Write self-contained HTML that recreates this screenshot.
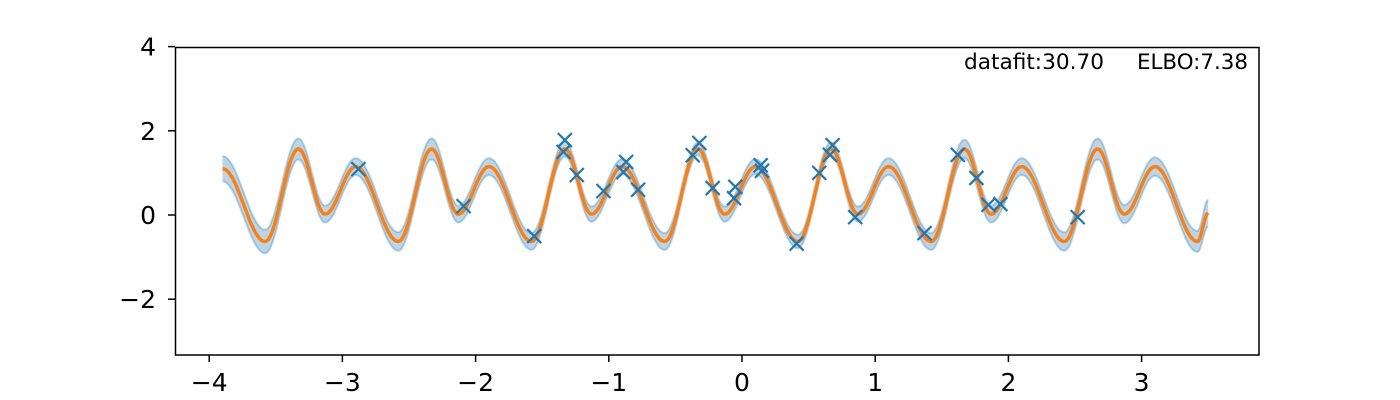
<!DOCTYPE html>
<html><head><meta charset="utf-8"><style>
html,body{margin:0;padding:0;background:#fff;}
svg{display:block;font-family:"DejaVu Sans","Liberation Sans",sans-serif;}
</style></head><body>
<svg id="chart" width="1400" height="400" viewBox="0 0 1400 400" xmlns="http://www.w3.org/2000/svg">
<rect width="1400" height="400" fill="#fff"/>
<defs><clipPath id="clip"><rect x="175" y="47" width="1084" height="308"/></clipPath></defs>
<g id="band" clip-path="url(#clip)"></g>
<g id="meanline" clip-path="url(#clip)"></g>
<g id="points" clip-path="url(#clip)"></g>
<rect x="175.5" y="47.5" width="1083.5" height="307.5" fill="none" stroke="#000" stroke-width="1.5"/>
<g id="xaxis"></g><g id="yaxis"></g>
<text x="1104" y="69" font-size="21" text-anchor="end" textLength="140" lengthAdjust="spacingAndGlyphs">datafit:30.70</text>
<text x="1248" y="69" font-size="21" text-anchor="end" textLength="111" lengthAdjust="spacingAndGlyphs">ELBO:7.38</text>
</svg>
<script>
// extrema of posterior mean
const meanX = [-3.9,-3.58,-3.33,-3.13,-2.9,-2.58,-2.33,-2.13,-1.9,-1.58,-1.33,-1.13,-0.9,-0.58,-0.33,-0.13,0.1,0.42,0.67,0.87,1.1,1.42,1.67,1.87,2.1,2.42,2.67,2.87,3.1,3.42,3.5];
const meanY = [1.1,-0.63,1.57,0.02,1.15,-0.63,1.57,0.02,1.15,-0.63,1.57,0.02,1.15,-0.63,1.57,0.02,1.15,-0.63,1.57,0.02,1.15,-0.63,1.57,0.02,1.15,-0.63,1.57,0.02,1.15,-0.63,0.05];
const stdY  = [0.3,0.28,0.25,0.2,0.2,0.22,0.25,0.2,0.2,0.2,0.18,0.18,0.18,0.2,0.15,0.18,0.18,0.16,0.16,0.18,0.2,0.2,0.22,0.2,0.2,0.22,0.25,0.22,0.22,0.25,0.32];
const obsX = [-2.88,-2.09,-1.56,-1.33,-1.34,-1.24,-1.04,-0.87,-0.89,-0.78,-0.37,-0.32,-0.22,-0.06,-0.05,0.14,0.15,0.41,0.58,0.68,0.66,0.85,1.37,1.62,1.76,1.85,1.94,2.52];
const obsY = [1.09,0.21,-0.5,1.78,1.5,0.95,0.57,1.26,1.02,0.6,1.42,1.71,0.64,0.4,0.67,1.18,1.05,-0.68,1.0,1.66,1.43,-0.05,-0.43,1.43,0.88,0.24,0.26,-0.05];
const xTicks = [-4,-3,-2,-1,0,1,2,3];
const yTicks = [-2,0,2,4];

const NS="http://www.w3.org/2000/svg";
const sx = v => 742 + 133.2*v;
const sy = v => 215 - 42.1*v;
function interp(arr, x){
  for(let i=0;i<meanX.length-1;i++){
    if(x>=meanX[i] && x<=meanX[i+1]){
      const t=(x-meanX[i])/(meanX[i+1]-meanX[i]);
      const w=(1-Math.cos(Math.PI*t))/2;
      return arr[i]*(1-w)+arr[i+1]*w;
    }
  }
  return arr[arr.length-1];
}
const xs=[]; const x0=meanX[0], x1=meanX[meanX.length-1];
for(let i=0;i<=600;i++) xs.push(x0+(x1-x0)*i/600);
const m = xs.map(x=>interp(meanY,x));
const s = xs.map(x=>interp(stdY,x));
const up = xs.map((x,i)=>[sx(x),sy(m[i]+s[i])]);
const lo = xs.map((x,i)=>[sx(x),sy(m[i]-s[i])]);
const pts = a=>a.map(p=>p[0].toFixed(1)+","+p[1].toFixed(1)).join(" ");
function mk(tag,attrs,parent){const e=document.createElementNS(NS,tag);for(const k in attrs)e.setAttribute(k,attrs[k]);parent.appendChild(e);return e;}
const band=document.getElementById('band');
const bp=mk('polygon',{points:pts(up)+" "+pts(lo.slice().reverse()),fill:"#1f77b4","fill-opacity":"0.3"},band);


const ul=mk('polyline',{points:pts(up),fill:"none",stroke:"#1f77b4","stroke-opacity":"0.3","stroke-width":"2"},band);


const ll=mk('polyline',{points:pts(lo),fill:"none",stroke:"#1f77b4","stroke-opacity":"0.3","stroke-width":"2"},band);


const ml=mk('polyline',{points:pts(xs.map((x,i)=>[sx(x),sy(m[i])])),fill:"none",stroke:"#ff7f0e","stroke-width":"3.5"},document.getElementById('meanline'));


const pg=document.getElementById('points');
obsX.forEach((x,i)=>{
  const cx=sx(x), cy=sy(obsY[i]), r=7;
  const g=mk('path',{d:`M${cx-r},${cy-r}L${cx+r},${cy+r}M${cx-r},${cy+r}L${cx+r},${cy-r}`,stroke:"#1f77b4","stroke-width":"2.2",fill:"none"},pg);
  
  
});
const xa=document.getElementById('xaxis');
xTicks.forEach(t=>{
  const x=sx(t);
  const l=mk('line',{x1:x,x2:x,y1:355,y2:362,stroke:"#000","stroke-width":"1.5"},xa);
  
  
  const tx=mk('text',{x:x,y:391,"font-size":"25","text-anchor":"middle"},xa);
  tx.textContent=(t<0?"\u2212"+(-t):String(t));
  
  
});
const ya=document.getElementById('yaxis');
yTicks.forEach(t=>{
  const y=sy(t);
  const l=mk('line',{x1:168,x2:175,y1:y,y2:y,stroke:"#000","stroke-width":"1.5"},ya);
  
  
  const tx=mk('text',{x:156,y:y+9,"font-size":"25","text-anchor":"end"},ya);
  tx.textContent=(t<0?"\u2212"+(-t):String(t));
  
  
});
</script>
</body></html>
